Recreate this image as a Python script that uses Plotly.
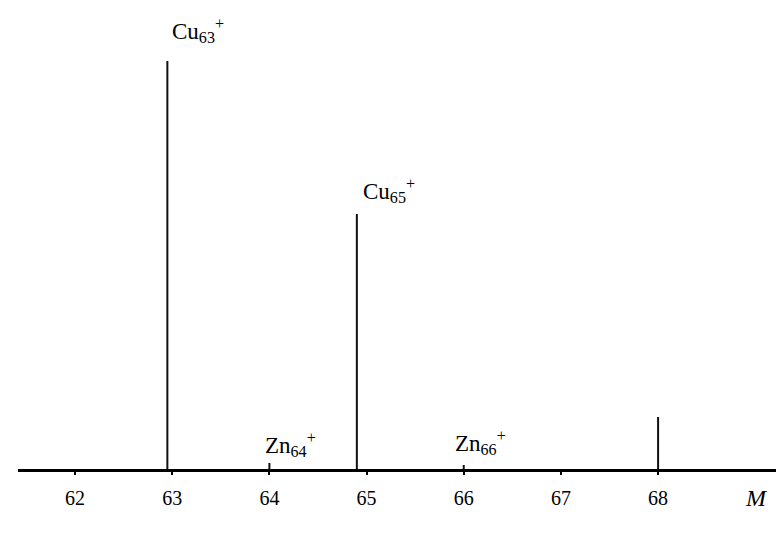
import plotly.graph_objects as go

# Data
masses = [62.95, 64.0, 64.9, 66.0, 68.0]
intensities = [408, 6, 255, 4, 52]
tick_vals = [62, 63, 64, 65, 66, 67, 68]
tick_text = ["62", "63", "64", "65", "66", "67", "68"]
label_masses = [62.95, 64.9, 64.0, 66.0]
label_heights = [439, 279, 25, 27]
label_texts = ["Cu<sub>63</sub><sup>+</sup>", "Cu<sub>65</sub><sup>+</sup>",
               "Zn<sub>64</sub><sup>+</sup>", "Zn<sub>66</sub><sup>+</sup>"]
label_dx = [3, 4, -6, -11]

xs, ys = [], []
for m, h in zip(masses, intensities):
    xs += [m, m, None]
    ys += [0, h, None]

fig = go.Figure()
fig.add_trace(go.Scatter(x=xs, y=ys, mode="lines",
                         line=dict(color="#111111", width=2),
                         hoverinfo="skip", showlegend=False))

serif = "Liberation Serif, Times New Roman, serif"
for m, h, t, dx in zip(label_masses, label_heights, label_texts, label_dx):
    fig.add_annotation(x=m, y=h, text=t, showarrow=False, xanchor="left",
                       yanchor="middle", xshift=dx,
                       font=dict(family=serif, size=23, color="black"))

fig.add_annotation(x=69.01, y=0, text="<i>M</i>", showarrow=False,
                   xanchor="center", yanchor="middle", yshift=-29,
                   font=dict(family=serif, size=24, color="black"))

fig.update_layout(
    width=784, height=534,
    margin=dict(l=10, r=0, t=0, b=73),
    paper_bgcolor="white", plot_bgcolor="white",
    xaxis=dict(range=[61.413, 69.378], tickvals=tick_vals, ticktext=tick_text,
               showgrid=False, zeroline=False, showline=True,
               linecolor="black", linewidth=3,
               ticks="outside", ticklen=3, tickwidth=1.5, tickcolor="black",
               ticklabelstandoff=6,
               tickfont=dict(family=serif, size=20, color="black")),
    yaxis=dict(range=[0, 461], visible=False, showgrid=False, zeroline=False),
)

fig.write_html("out.html")
